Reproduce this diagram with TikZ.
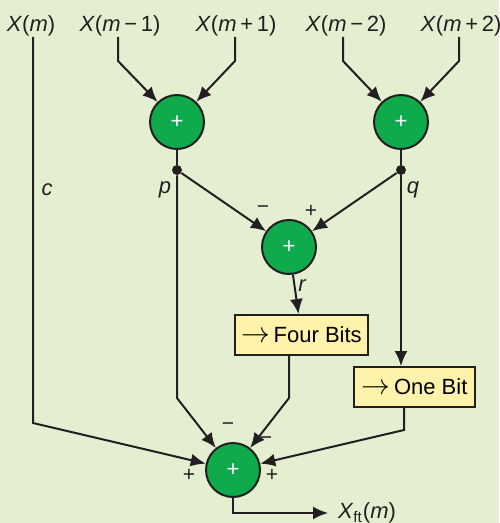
\documentclass[tikz,border=0pt]{standalone}
\usepackage{fontspec}
\setmainfont{Liberation Sans}
\usetikzlibrary{arrows.meta,positioning,calc}
\definecolor{bggreen}{RGB}{227,239,208}
\definecolor{addgreen}{RGB}{14,170,75}
\definecolor{boxyellow}{RGB}{255,242,170}
\definecolor{inkdark}{RGB}{35,31,32}
\newcommand{\toarr}{{\fontsize{14}{14}\selectfont$\rightarrow$}\,}
\tikzset{
  sig/.style={inkdark, line width=1pt},
  sigarr/.style={sig, -{Latex[length=7.5pt, width=6.5pt]}},
  adder/.style={circle, draw=inkdark, line width=1pt, fill=addgreen,
                minimum size=27pt, inner sep=0pt, text=white, font=\fontsize{11}{13}\selectfont},
  bitbox/.style={draw=inkdark, line width=1pt, fill=boxyellow,
                 minimum height=20pt, inner sep=0pt, font=\fontsize{11}{13}\selectfont},
  inlab/.style={font=\fontsize{11}{13}\selectfont, text=inkdark, anchor=base},
  wlab/.style={font=\fontsize{11}{13}\selectfont\itshape, text=inkdark},
  sgn/.style={font=\fontsize{10.5}{12}\selectfont, text=inkdark},
  tap/.style={circle, fill=inkdark, inner sep=0pt, minimum size=5pt},
}

\begin{document}
\begin{tikzpicture}[x=0.5pt, y=-0.5pt]
  \fill[bggreen] (0,0) rectangle (499,523);
  \useasboundingbox (0,0) rectangle (499,523);
  % inputs
  \node[inlab] (xm)  at (31,32)  {\textit{X}(\textit{m})};
  \node[inlab] (xm1) at (120,32) {\textit{X}(\textit{m}\,−\,1)};
  \node[inlab] (xp1) at (236,32) {\textit{X}(\textit{m}\,+\,1)};
  \node[inlab] (xm2) at (346,32) {\textit{X}(\textit{m}\,−\,2)};
  \node[inlab] (xp2) at (461,32) {\textit{X}(\textit{m}\,+\,2)};
  \coordinate (sxm)  at (33,37);
  \coordinate (sxm1) at (118,37);
  \coordinate (sxp1) at (235,37);
  \coordinate (sxm2) at (343,37);
  \coordinate (sxp2) at (459,37);
  % adders and boxes
  \node[adder] (addp) at (177,122) {+};
  \node[adder] (addq) at (401,122) {+};
  \node[adder] (addr) at (289,247) {+};
  \node[adder] (addout) at (233,470) {+};
  \node[bitbox, minimum width=66.5pt] (fourbits) at (301.5,335) {\toarr Four Bits};
  \node[bitbox, minimum width=60.5pt] (onebit) at (414.5,387) {\toarr One Bit};
  \node[tap] (dp) at (177,170) {};
  \node[tap] (dq) at (401,170) {};
  % bends
  \coordinate (bxm1) at (118,61);
  \coordinate (bxp1) at (235,61);
  \coordinate (bxm2) at (343,61);
  \coordinate (bxp2) at (459,61);
  \coordinate (bc) at (33,423);
  \coordinate (bp) at (177,398);
  \coordinate (bfb) at (289,398);
  \coordinate (bob) at (404,430);
  \coordinate (outc) at (233,513);
  \coordinate (outend) at (328,513);
  % connectors
  \draw[sigarr] (sxm1) -- (bxm1) -- (addp);
  \draw[sigarr] (sxp1) -- (bxp1) -- (addp);
  \draw[sigarr] (sxm2) -- (bxm2) -- (addq);
  \draw[sigarr] (sxp2) -- (bxp2) -- (addq);
  \draw[sig] (addp) -- (dp);
  \draw[sig] (addq) -- (dq);
  \draw[sigarr] (dp) -- (addr);
  \draw[sigarr] (dq) -- (addr);
  \draw[sigarr] (addr) -- (fourbits);
  \draw[sigarr] (dq) -- (dq |- onebit.north);
  \draw[sigarr] (sxm) -- (bc) -- (addout);
  \draw[sigarr] (dp) -- (bp) -- (addout);
  \draw[sigarr] (fourbits.south -| bfb) -- (bfb) -- (addout);
  \draw[sigarr] (onebit.south -| bob) -- (bob) -- (addout);
  \draw[sigarr] (addout) -- (outc) -- (outend);
  % labels
  \node[wlab] at (47,190) {c};
  \node[wlab] at (165,190) {p};
  \node[wlab] at (413,190) {q};
  \node[wlab] at (302,286) {r};
  \node[sgn] at (263,210) {−};
  \node[sgn] at (311,211) {+};
  \node[sgn] at (228,427) {−};
  \node[sgn] at (266,441) {−};
  \node[sgn] at (189,475) {+};
  \node[sgn] at (272,475) {+};
  \node[inlab, anchor=west] (xout) at (331,513) {\textit{X}\textsubscript{ft}(\textit{m})};
\end{tikzpicture}
\end{document}
